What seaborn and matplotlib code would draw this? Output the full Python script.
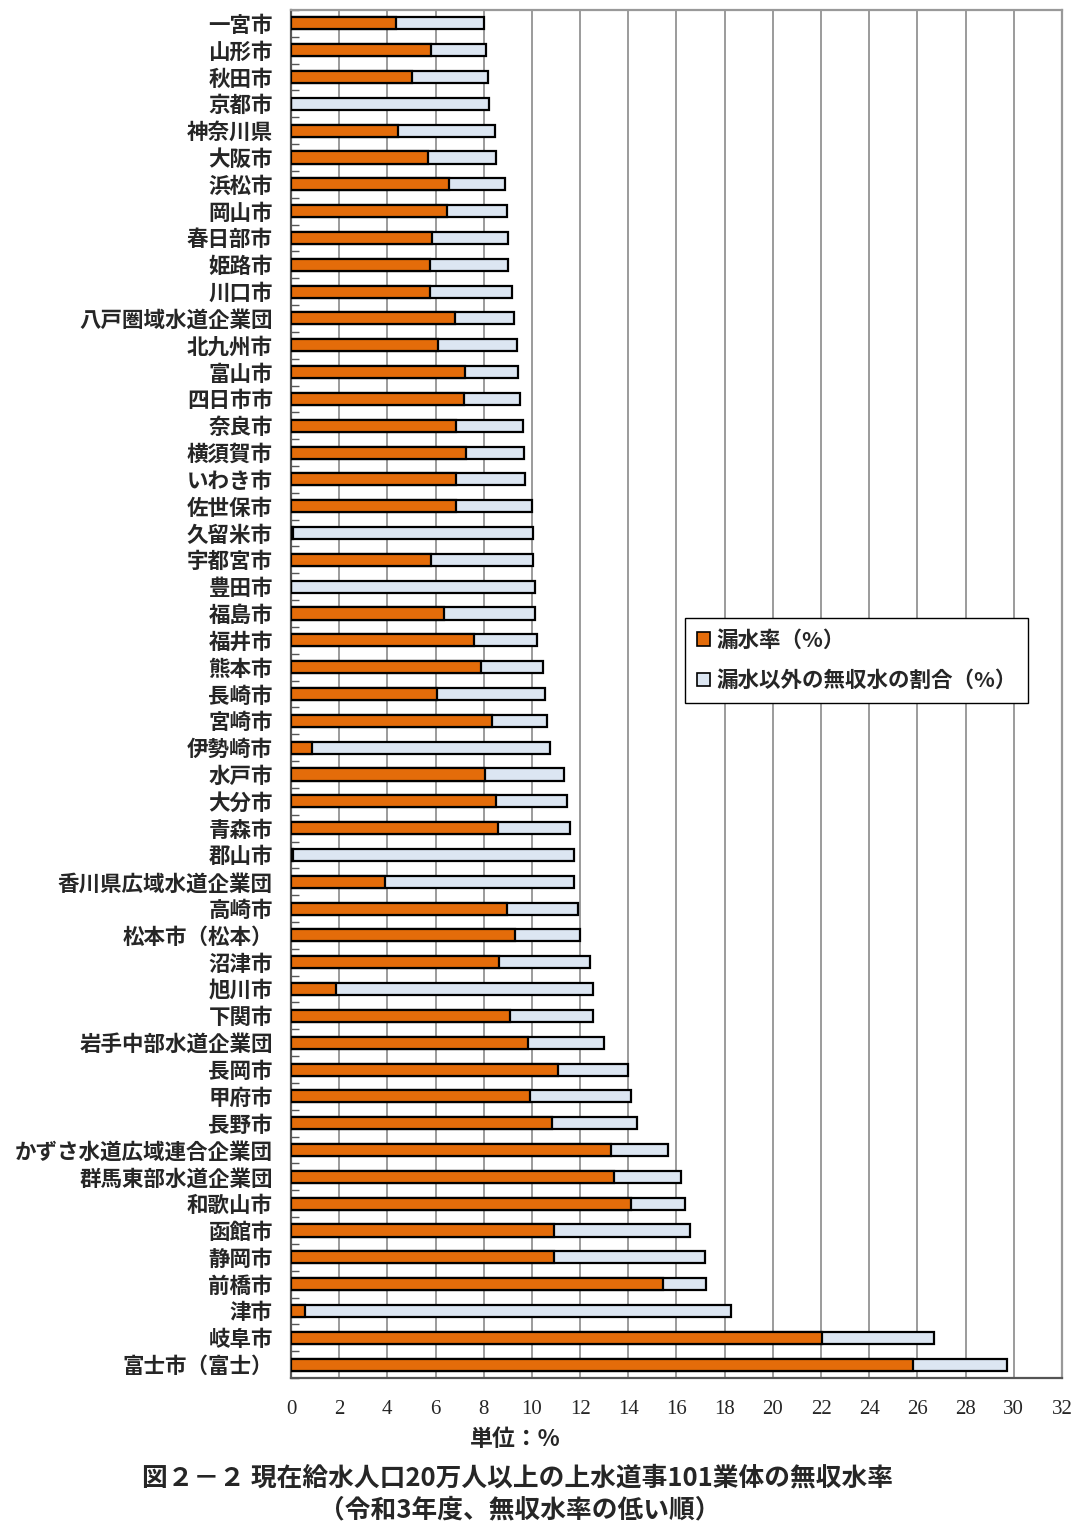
import numpy as np
import pandas as pd
import matplotlib
matplotlib.use("Agg")
import matplotlib.pyplot as plt
import seaborn as sns
from matplotlib.patches import Patch
from matplotlib.ticker import FixedLocator

# data (%)
cities = [
    "一宮市", "山形市", "秋田市", "京都市", "神奈川県", "大阪市", "浜松市", "岡山市",
    "春日部市", "姫路市", "川口市", "八戸圏域水道企業団", "北九州市", "富山市",
    "四日市市", "奈良市", "横須賀市", "いわき市", "佐世保市", "久留米市", "宇都宮市",
    "豊田市", "福島市", "福井市", "熊本市", "長崎市", "宮崎市", "伊勢崎市", "水戸市",
    "大分市", "青森市", "郡山市", "香川県広域水道企業団", "高崎市", "松本市（松本）",
    "沼津市", "旭川市", "下関市", "岩手中部水道企業団", "長岡市", "甲府市", "長野市",
    "かずさ水道広域連合企業団", "群馬東部水道企業団", "和歌山市", "函館市", "静岡市",
    "前橋市", "津市", "岐阜市", "富士市（富士）",
]
leak_rate = [
    4.36, 5.81, 5.02, 0.0, 4.44, 5.69, 6.56, 6.48,
    5.85, 5.77, 5.77, 6.81, 6.10, 7.22,
    7.18, 6.85, 7.26, 6.85, 6.85, 0.10, 5.81,
    0.0, 6.35, 7.60, 7.89, 6.06, 8.34, 0.87, 8.05,
    8.51, 8.59, 0.08, 3.90, 8.97, 9.30,
    8.63, 1.87, 9.09, 9.84, 11.08, 9.92, 10.83,
    13.28, 13.41, 14.11, 10.92, 10.92,
    15.44, 0.58, 22.04, 25.82,
]
nonrevenue_total = [
    8.01, 8.09, 8.18, 8.22, 8.47, 8.51, 8.88, 8.97,
    9.01, 9.01, 9.17, 9.26, 9.38, 9.42,
    9.51, 9.63, 9.67, 9.71, 10.00, 10.05, 10.05,
    10.13, 10.13, 10.21, 10.46, 10.54, 10.63, 10.75, 11.33,
    11.46, 11.58, 11.75, 11.75, 11.91, 12.00,
    12.41, 12.54, 12.54, 12.99, 13.99, 14.11, 14.36,
    15.65, 16.19, 16.36, 16.56, 17.19,
    17.23, 18.26, 26.69, 29.72,
]
x_ticks = list(range(0, 33, 2))

df = pd.DataFrame({"city": cities, "leak": leak_rate, "total": nonrevenue_total})

jp = ["Noto Sans CJK JP", "DejaVu Sans"]
orange = "#E46C0A"
pale = "#DCE6F2"

sns.set_style("white")
plt.rcParams["font.family"] = jp

fig = plt.figure(figsize=(10.78, 15.32), dpi=100)
ax = fig.add_axes([0.2699, 0.1005, 0.9852 - 0.2699, 0.9935 - 0.1005])

# total first (pale), leak rate drawn on top of it
sns.barplot(data=df, y="city", x="total", order=cities, color=pale, saturation=1,
            width=0.45, edgecolor="black", linewidth=1.6, ax=ax, zorder=3)
sns.barplot(data=df, y="city", x="leak", order=cities, color=orange, saturation=1,
            width=0.45, edgecolor="black", linewidth=1.6, ax=ax, zorder=4)

ax.set_xlim(0, 32)
ax.set_ylim(len(cities) - 0.5, -0.5)
ax.set_xticks(x_ticks)
ax.set_xticklabels([str(t) for t in x_ticks], fontfamily="Liberation Serif", fontsize=15)
ax.tick_params(axis="x", length=0, pad=16)
ax.tick_params(axis="y", which="major", length=0, pad=13)
for lab in ax.get_yticklabels():
    lab.set_fontsize(15.5)
    lab.set_fontweight("bold")
ax.yaxis.set_minor_locator(FixedLocator(np.arange(-0.5, len(cities), 1.0)))
ax.tick_params(axis="y", which="minor", direction="in", length=6, width=1, color="#555555", left=True)
ax.set_xlabel("")
ax.set_ylabel("")
ax.grid(axis="x", color="#808080", linewidth=1.1, zorder=0)
ax.set_axisbelow(True)

for side in ["top", "right"]:
    ax.spines[side].set_color("#999999")
    ax.spines[side].set_linewidth(1.6)
for side in ["left", "bottom"]:
    ax.spines[side].set_color("#555555")
    ax.spines[side].set_linewidth(1.6)

handles = [Patch(facecolor=orange, edgecolor="black", linewidth=1.2, label="漏水率（%）"),
           Patch(facecolor=pale, edgecolor="black", linewidth=1.2, label="漏水以外の無収水の割合（%）")]
leg = fig.legend(handles=handles, loc="upper left", bbox_to_anchor=(685 / 1078, 1 - 618 / 1532),
                 frameon=True, fancybox=False, edgecolor="black", framealpha=1,
                 prop={"family": jp, "size": 15.5, "weight": "bold"},
                 handlelength=0.6, handleheight=0.6, handletextpad=0.3,
                 labelspacing=0.9, borderpad=0.55, borderaxespad=0)
leg.get_frame().set_linewidth(1.0)

fig.text(0.478, 1 - 1440 / 1532, "単位：%", ha="center", va="center", fontsize=16.5, fontweight="bold")
fig.text(0.48, 1 - 1478 / 1532, "図２－２ 現在給水人口20万人以上の上水道事101業体の無収水率",
         ha="center", va="center", fontsize=18.5, fontweight="bold")
fig.text(0.482, 1 - 1510 / 1532, "（令和3年度、無収水率の低い順）",
         ha="center", va="center", fontsize=18.5, fontweight="bold")

fig.savefig("out.png", dpi=100)
plt.close(fig)
